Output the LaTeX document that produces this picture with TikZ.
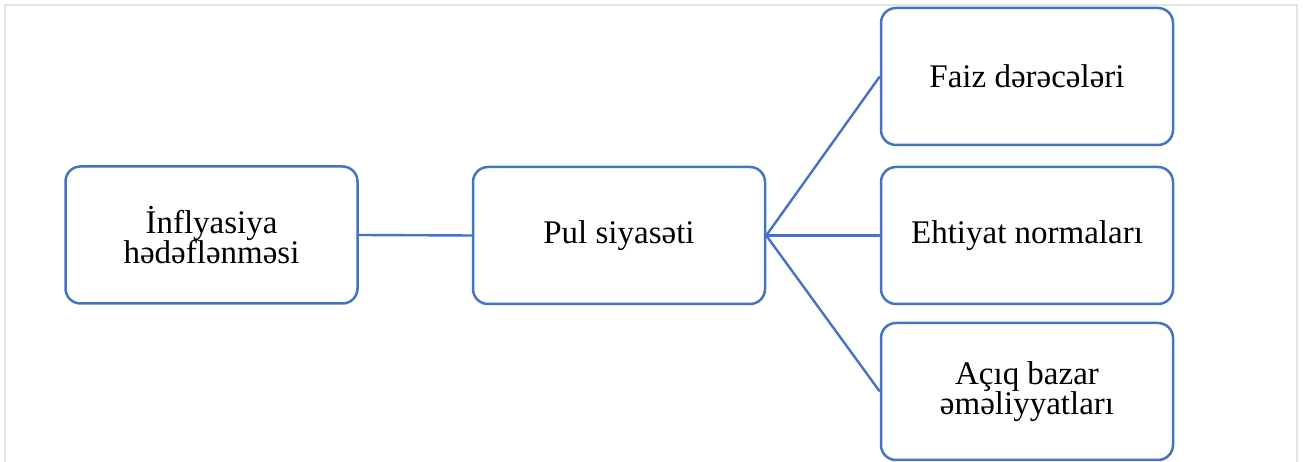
\documentclass[tikz,border=0pt]{standalone}
\usepackage{fontspec}
\setmainfont{Liberation Serif}
\definecolor{boxblue}{HTML}{4472C4}
\definecolor{framegray}{HTML}{E3E3E3}
\begin{document}
\begin{tikzpicture}[x=1pt,y=1pt,
  box/.style={draw=boxblue, line width=2.5pt, rounded corners=15pt, fill=white,
    minimum width=292pt, minimum height=137pt, align=center, inner sep=0pt,
    font=\fontsize{33}{30.5}\selectfont},
  link/.style={draw=boxblue, line width=2.4pt}]
\useasboundingbox (0,0) rectangle (1306,462);
\fill[white] (0,0) rectangle (1306,462);
\draw[framegray, line width=1.6pt] (5,-5) -- (5,457) -- (1297,457) -- (1297,-5);
\node[box] (inf) at (211.5,227) {İnflyasiya\\hədəflənməsi};
\node[box] (pul) at (619,226.5) {Pul siyasəti};
\node[box] (faiz) at (1027,385.5) {Faiz dərəcələri};
\node[box] (eht) at (1027,226.5) {Ehtiyat normaları};
\node[box] (aciq) at (1027,70.5) {Açıq bazar\\əməliyyatları};
\draw[link] (inf.east) -- (pul.west);
\draw[link] (pul.east) -- (faiz.west);
\draw[link] (pul.east) -- (eht.west);
\draw[link] (pul.east) -- (aciq.west);
\end{tikzpicture}
\end{document}
